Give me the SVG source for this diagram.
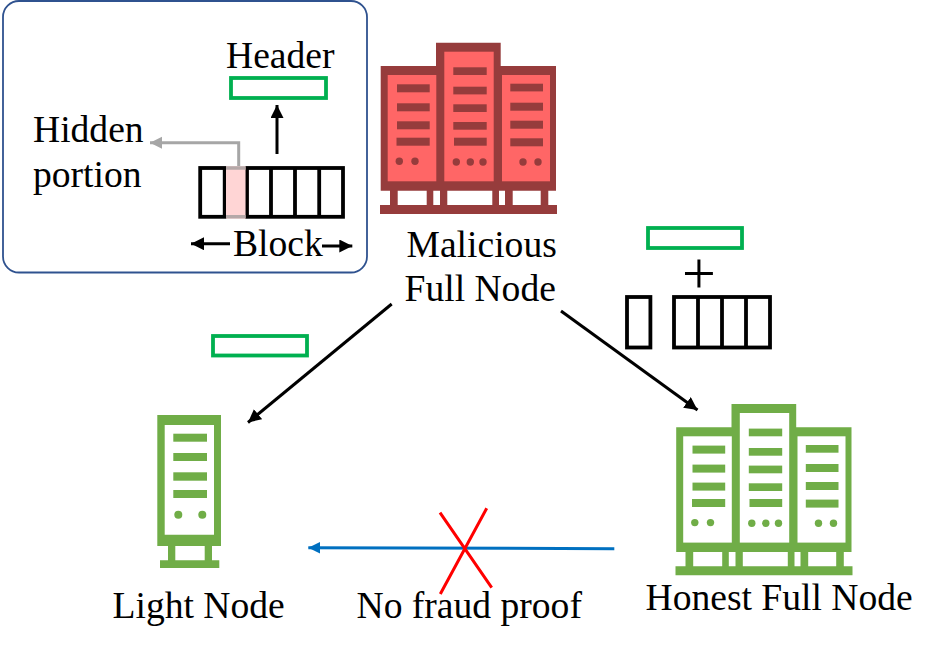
<svg xmlns="http://www.w3.org/2000/svg" width="935" height="651" viewBox="0 0 935 651">
<style>
text{font-family:"Liberation Serif","Times New Roman",serif;font-size:37.6px;fill:#000}
.hdr{fill:none;stroke:#00b050;stroke-width:3.8}
.blk{fill:none;stroke:#000;stroke-width:3.8}
.bk{fill:none;stroke:#000;stroke-width:3}
.bar{fill:currentColor}
</style>
<defs>
<marker id="ah" markerUnits="userSpaceOnUse" markerWidth="15" markerHeight="15" refX="13" refY="6.500" orient="auto"><path d="M0 0L13 6.500L0 13Z" fill="#000"/></marker>
<marker id="ag" markerUnits="userSpaceOnUse" markerWidth="15" markerHeight="15" refX="12" refY="6" orient="auto"><path d="M0 0L12 6L0 12Z" fill="#a6a6a6"/></marker>
<marker id="ab" markerUnits="userSpaceOnUse" markerWidth="15" markerHeight="15" refX="12" refY="6" orient="auto"><path d="M0 0L12 6L0 12Z" fill="#0070c0"/></marker>
<g id="rack3">
<path class="bar" d="M380.700 66H436V42.700H500.700V66H556V190.700H548.300V205H557V214H380V205H390V190.700H380.700ZM397.700 190.700V205H426.700V190.700ZM433.300 190.700V205H440V190.700ZM447.300 190.700V205H492.300V190.700ZM499 190.700V205H505V190.700ZM512.700 190.700V205H540.700V190.700Z" fill-rule="evenodd"/>
<rect x="387.700" y="75" width="48.600" height="106.300"/>
<rect x="444.300" y="51.700" width="49.400" height="129.600"/>
<rect x="502" y="75" width="48" height="106.300"/>
<g class="bar">
<rect x="397" y="84.300" width="32.700" height="8"/><rect x="397" y="103.300" width="32.700" height="8"/><rect x="397" y="121.300" width="32.700" height="8"/><rect x="396.500" y="137.700" width="33.200" height="8"/>
<rect x="453.300" y="67.300" width="33.400" height="7.700"/><rect x="453.300" y="86.700" width="33.400" height="7.700"/><rect x="453.300" y="104.300" width="33.400" height="7.700"/><rect x="453.300" y="122" width="33.400" height="7.700"/><rect x="454" y="137.700" width="32.700" height="8"/>
<rect x="510.300" y="83.700" width="32.700" height="7.700"/><rect x="510.300" y="102.700" width="32.700" height="8"/><rect x="510.300" y="120.700" width="32.700" height="8"/><rect x="510.300" y="138.300" width="32.700" height="8"/>
<circle cx="399.300" cy="161.300" r="3.700"/><circle cx="415" cy="161.300" r="3.700"/>
<circle cx="456.300" cy="162" r="3.700"/><circle cx="470.300" cy="162" r="3.700"/><circle cx="483" cy="162" r="3.700"/>
<circle cx="523" cy="162" r="3.700"/><circle cx="538" cy="162" r="3.700"/>
</g>
</g>
</defs>

<g id="inset">
<rect x="3" y="1" width="364" height="271.500" rx="16" fill="#fff" stroke="#2f528f" stroke-width="1.800"/>
<text x="226" y="68">Header</text>
<rect class="hdr" x="231" y="78" width="95" height="20"/>
<text x="33" y="141.500">Hidden</text>
<text x="33" y="186.500">portion</text>
<g id="block">
<rect class="blk" x="200.200" y="168" width="24.500" height="48.800"/>
<rect class="blk" x="247" y="168" width="96" height="48.800"/>
<path class="blk" d="M271 168V216.800M295 168V216.800M319.200 168V216.800"/>
<rect x="226" y="166.200" width="19.500" height="52.400" fill="#ffd5d5"/>
<path d="M226 168H245.500M226 216.800H245.500" stroke="#b5a8a8" stroke-width="3.600" fill="none"/>
</g>
<text x="233" y="256">Block</text>
<path class="bk" d="M230 243.700H191" marker-end="url(#ah)"/>
<path class="bk" d="M322 246H352.300" marker-end="url(#ah)"/>
<path class="bk" d="M277 154V105" marker-end="url(#ah)"/>
<path d="M238.700 166V142.700H150" fill="none" stroke="#a6a6a6" stroke-width="3" marker-end="url(#ag)"/>
</g>

<g id="malicious-node" fill="#ff6666" color="#963c3c">
<use href="#rack3"/>
<text x="406.500" y="257">Malicious</text>
<text x="404.500" y="301">Full Node</text>
</g>

<g id="honest-node" fill="#fff" color="#70ad47">
<use href="#rack3" transform="translate(295.500 361.300)"/>
<text x="645.500" y="610">Honest Full Node</text>
</g>

<g id="light-node" color="#70ad47">
<path class="bar" fill-rule="evenodd" d="M157.300 415H221V546H212V560.300H219.300V568H160V560.300H168V546H157.300ZM164.700 425V534.700H214V425ZM175.300 546V560.300H204.700V546Z"/>
<g class="bar">
<rect x="173.300" y="433.700" width="33.700" height="8"/><rect x="173.300" y="453" width="33.700" height="8"/><rect x="173.300" y="472.300" width="33.700" height="8.400"/><rect x="173.300" y="490" width="33.700" height="8"/>
<circle cx="178.300" cy="514.700" r="4"/><circle cx="202.300" cy="514.700" r="4"/>
</g>
<text x="112.500" y="618">Light Node</text>
</g>

<g id="data-top">
<rect class="hdr" x="648" y="228" width="94" height="20"/>
<text x="699" y="293" text-anchor="middle" style="font-size:60px">+</text>
<rect class="blk" x="627" y="297" width="23.400" height="50.500"/>
<rect class="blk" x="674" y="297" width="96" height="50.500"/>
<path class="blk" d="M698 297V347.500M722 297V347.500M746 297V347.500"/>
</g>

<g id="data-left">
<rect class="hdr" x="213" y="336" width="94" height="19.500"/>
</g>

<g id="connectors">
<path class="bk" d="M391.700 304L248 422.500" marker-end="url(#ah)"/>
<path class="bk" d="M561 311L697.500 410" marker-end="url(#ah)"/>
<path d="M614.300 548.700L308.300 547.700" fill="none" stroke="#0070c0" stroke-width="3" marker-end="url(#ab)"/>
<path d="M440 512.700L491.700 587.700M486.700 508.300L440.300 594" fill="none" stroke="#ff0000" stroke-width="3"/>
</g>
<text x="356.500" y="618">No fraud proof</text>
</svg>
